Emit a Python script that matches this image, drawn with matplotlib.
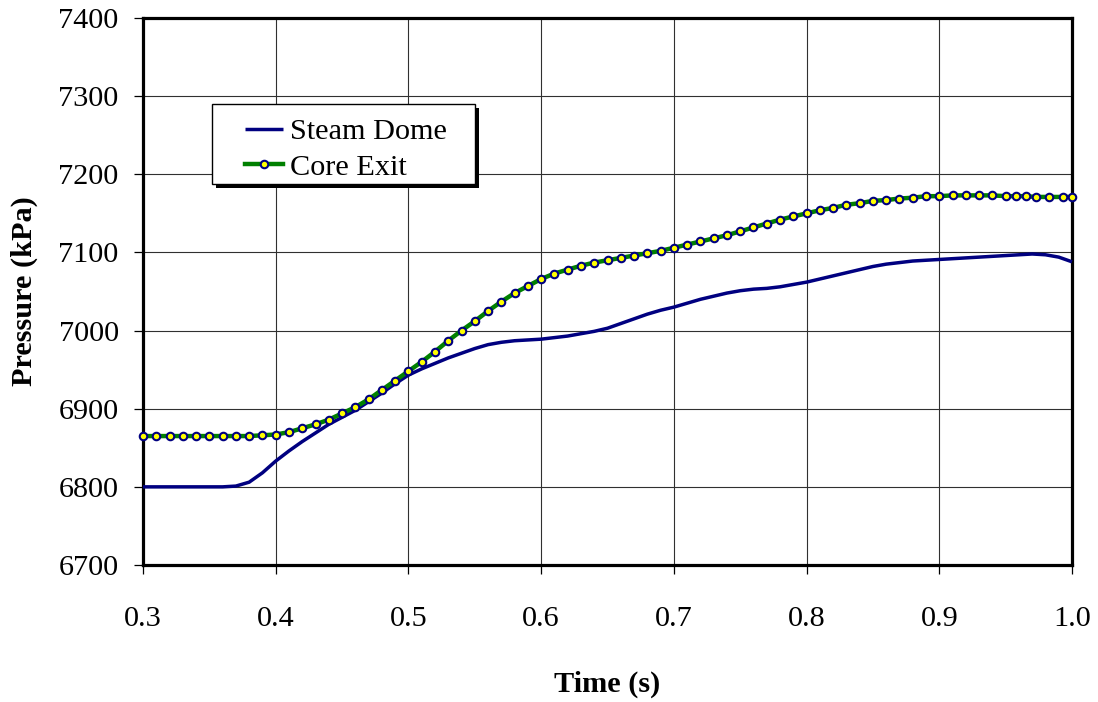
import matplotlib
matplotlib.use("Agg")
import matplotlib.pyplot as plt
from matplotlib.patches import Rectangle

plt.rcParams["font.family"] = ["Liberation Serif", "DejaVu Serif"]

# Steam dome pressure (kPa), sampled every 0.01 s
steam_time = [0.30, 0.31, 0.32, 0.33, 0.34, 0.35, 0.36, 0.37, 0.38, 0.39,
              0.40, 0.41, 0.42, 0.43, 0.44, 0.45, 0.46, 0.47, 0.48, 0.49,
              0.50, 0.51, 0.52, 0.53, 0.54, 0.55, 0.56, 0.57, 0.58, 0.59,
              0.60, 0.61, 0.62, 0.63, 0.64, 0.65, 0.66, 0.67, 0.68, 0.69,
              0.70, 0.71, 0.72, 0.73, 0.74, 0.75, 0.76, 0.77, 0.78, 0.79,
              0.80, 0.81, 0.82, 0.83, 0.84, 0.85, 0.86, 0.87, 0.88, 0.89,
              0.90, 0.91, 0.92, 0.93, 0.94, 0.95, 0.96, 0.97, 0.98, 0.99,
              1.00]
steam_dome = [6800, 6800, 6800, 6800, 6800, 6800, 6800, 6801, 6806, 6818,
              6833, 6846, 6858, 6869, 6880, 6889, 6898, 6909, 6920, 6932,
              6943, 6951, 6958, 6965, 6971, 6977, 6982, 6985, 6987, 6988,
              6989, 6991, 6993, 6996, 6999, 7003, 7009, 7015, 7021, 7026,
              7030, 7035, 7040, 7044, 7048, 7051, 7053, 7054, 7056, 7059,
              7062, 7066, 7070, 7074, 7078, 7082, 7085, 7087, 7089, 7090,
              7091, 7092, 7093, 7094, 7095, 7096, 7097, 7098, 7097, 7094,
              7088]

# Core exit pressure (kPa)
core_time = [0.30, 0.31, 0.32, 0.33, 0.34, 0.35, 0.36, 0.37, 0.38, 0.39,
             0.40, 0.41, 0.42, 0.43, 0.44, 0.45, 0.46, 0.47, 0.48, 0.49,
             0.50, 0.51, 0.52, 0.53, 0.54, 0.55, 0.56, 0.57, 0.58, 0.59,
             0.60, 0.61, 0.62, 0.63, 0.64, 0.65, 0.66, 0.67, 0.68, 0.69,
             0.70, 0.71, 0.72, 0.73, 0.74, 0.75, 0.76, 0.77, 0.78, 0.79,
             0.80, 0.81, 0.82, 0.83, 0.84, 0.85, 0.86, 0.87, 0.88, 0.89,
             0.90, 0.91, 0.92, 0.93, 0.94, 0.95, 0.958, 0.965, 0.973, 0.983,
             0.993, 1.000]
core_exit = [6865, 6865, 6865, 6865, 6865, 6865, 6865, 6865, 6865, 6866,
             6867, 6870, 6875, 6880, 6886, 6894, 6902, 6912, 6924, 6936,
             6948, 6960, 6973, 6987, 7000, 7012, 7025, 7037, 7048, 7057,
             7066, 7073, 7078, 7083, 7087, 7090, 7093, 7096, 7099, 7102,
             7106, 7110, 7114, 7118, 7122, 7127, 7132, 7137, 7142, 7146,
             7150, 7154, 7157, 7161, 7163, 7166, 7167, 7169, 7170, 7172,
             7172, 7173, 7173, 7173, 7173, 7172, 7172, 7172, 7171, 7171,
             7171, 7171]

x_ticks = [0.3, 0.4, 0.5, 0.6, 0.7, 0.8, 0.9, 1.0]
x_tick_labels = ["0.3", "0.4", "0.5", "0.6", "0.7", "0.8", "0.9", "1.0"]
y_ticks = [6700, 6800, 6900, 7000, 7100, 7200, 7300, 7400]

FS = 21.8

fig = plt.figure(figsize=(10.98, 7.02), dpi=100)
ax = fig.add_axes([143 / 1098, 1 - 565 / 702, (1072 - 143) / 1098, (565 - 18) / 702])

ax.plot(steam_time, steam_dome, color="#000080", lw=2.5, label="Steam Dome",
        zorder=3, clip_on=False, solid_capstyle="butt")
ax.plot(core_time, core_exit, color="#008000", lw=3.2, marker="o",
        markersize=5.4, markerfacecolor="#ffff00", markeredgecolor="#000080",
        markeredgewidth=1.5, label="Core Exit", zorder=4, clip_on=False)

ax.set_xlim(0.3, 1.0)
ax.set_ylim(6700, 7400)
ax.set_xticks(x_ticks)
ax.set_xticklabels(x_tick_labels)
ax.set_yticks(y_ticks)

ax.grid(True, color="#303030", lw=0.8, zorder=0)
ax.set_axisbelow(True)
for sp in ax.spines.values():
    sp.set_linewidth(2.3)
    sp.set_color("black")

ax.tick_params(axis="both", direction="out", length=6.5, width=0.9,
               labelsize=FS, colors="black")
ax.tick_params(axis="y", pad=11)
ax.tick_params(axis="x", pad=23)

ax.set_xlabel("Time (s)", fontsize=FS, fontweight="bold")
ax.set_ylabel("Pressure (kPa)", fontsize=FS, fontweight="bold")
ax.xaxis.set_label_coords(0.5, -0.193)
ax.yaxis.set_label_coords(-0.113, 0.5)

# Legend box with a solid drop shadow
x0, y0 = (212 - 143) / 929, (565 - 184) / 547
w, h = (475 - 212) / 929, (184 - 104) / 547
ax.add_patch(Rectangle((x0 + 4 / 929, y0 - 4 / 547), w, h, transform=ax.transAxes,
                       facecolor="black", edgecolor="none", zorder=5, clip_on=False))
ax.add_patch(Rectangle((x0, y0), w, h, transform=ax.transAxes, facecolor="white",
                       edgecolor="black", lw=1.0, zorder=5.1, clip_on=False))
leg = ax.legend(loc="upper left", bbox_to_anchor=((245 - 143) / 929, (565 - 118) / 547),
                frameon=False, fontsize=FS, borderpad=0, borderaxespad=0,
                handlelength=1.24, handletextpad=0.25, labelspacing=0.27)
leg.set_zorder(6)

fig.savefig("out.png", dpi=100)
